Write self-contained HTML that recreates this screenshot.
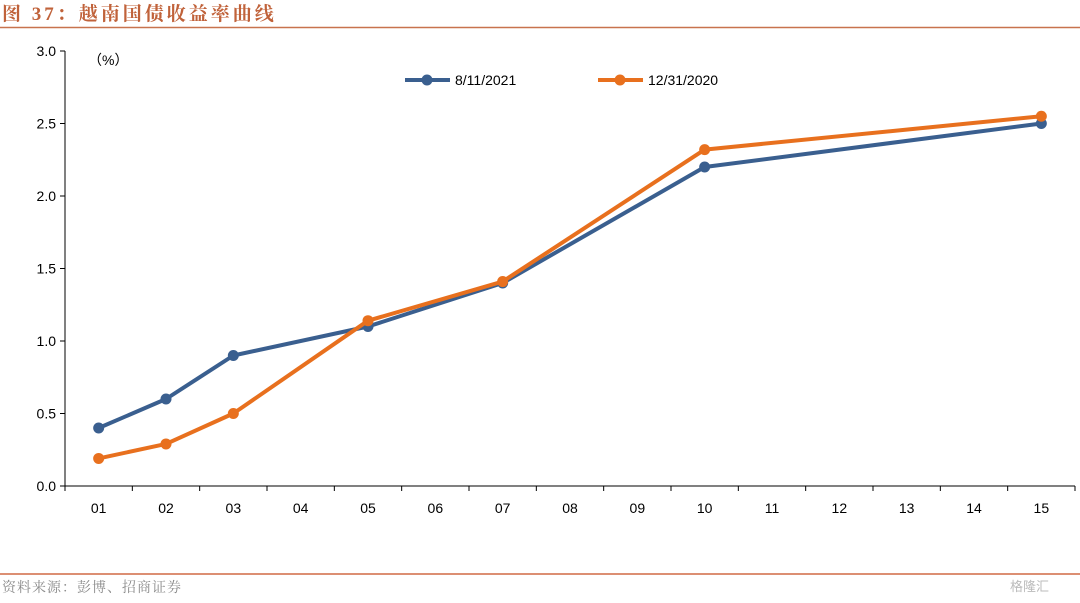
<!DOCTYPE html>
<html><head><meta charset="utf-8"><style>
body{margin:0;width:1080px;height:598px;background:#fff;overflow:hidden;font-family:"Liberation Sans","Noto Sans CJK SC",sans-serif;}
</style></head><body>
<svg width="1080" height="598">
<text x="2" y="20" font-size="19" font-weight="bold" fill="#c0623a" letter-spacing="3" font-family="'Liberation Serif','Noto Serif CJK SC',serif">图 37：越南国债收益率曲线</text>
<line x1="0" y1="27.5" x2="1080" y2="27.5" stroke="#c8734e" stroke-width="1.5"/>
<g id="axes"></g>
<g id="series"></g>
<line x1="0" y1="574" x2="1080" y2="574" stroke="#d06a45" stroke-width="1.5"/>
<text x="2" y="592" font-size="14" fill="#8a8a8a" letter-spacing="1" font-family="'Noto Serif CJK SC',serif">资料来源：彭博、招商证券</text>
<text x="1010" y="591" font-size="13" fill="#bbb">格隆汇</text>
</svg>
<script>
const categories=["01","02","03","04","05","06","07","08","09","10","11","12","13","14","15"];
const yTicks=["0.0","0.5","1.0","1.5","2.0","2.5","3.0"];
const seriesNames=["8/11/2021","12/31/2020"];
const blueCats=["01","02","03","05","07","10","15"];
const blueVals=[0.40,0.60,0.90,1.10,1.40,2.20,2.50];
const orangeCats=["01","02","03","05","07","10","15"];
const orangeVals=[0.19,0.29,0.50,1.14,1.41,2.32,2.55];
const NS="http://www.w3.org/2000/svg";
const x0=65,x1=1075,yTop=51,yBot=486,ymax=3;
const bw=(x1-x0)/categories.length;
const xs=c=>x0+bw*(categories.indexOf(c)+0.5);
const ys=v=>yBot-(v/ymax)*(yBot-yTop);
function mk(t,a,p){const e=document.createElementNS(NS,t);for(const k in a)e.setAttribute(k,a[k]);p.appendChild(e);return e;}
const ax=document.getElementById('axes');
let yl=mk('line',{x1:x0,y1:yTop,x2:x0,y2:yBot,stroke:'#000'},ax);


let xl=mk('line',{x1:x0,y1:yBot,x2:x1,y2:yBot,stroke:'#000'},ax);


yTicks.forEach(t=>{const y=ys(parseFloat(t));
mk('line',{x1:x0-5,y1:y,x2:x0,y2:y,stroke:'#000'},ax);
const tx=mk('text',{x:x0-9,y:y+5,'font-size':14,'text-anchor':'end'},ax);tx.textContent=t;

});
for(let i=0;i<=categories.length;i++){const x=x0+bw*i;mk('line',{x1:x,y1:yBot,x2:x,y2:yBot+5,stroke:'#000'},ax);}
categories.forEach(c=>{const tx=mk('text',{x:xs(c),y:513,'font-size':14,'text-anchor':'middle'},ax);tx.textContent=c;

});
const unit=mk('text',{x:88,y:65,'font-size':14},ax);unit.textContent='（%）';


const sg=document.getElementById('series');
function draw(cats,vals,col,name,lx){
const pts=cats.map((c,i)=>xs(c)+','+ys(vals[i])).join(' ');
const pl=mk('polyline',{points:pts,fill:'none',stroke:col,'stroke-width':4,'stroke-linejoin':'round'},sg);


cats.forEach((c,i)=>{const ci=mk('circle',{cx:xs(c),cy:ys(vals[i]),r:5.5,fill:col},sg);

});
const g=mk('g',{},sg);


mk('line',{x1:lx,y1:80,x2:lx+45,y2:80,stroke:col,'stroke-width':4},g);
mk('circle',{cx:lx+22,cy:80,r:5.5,fill:col},g);
const t=mk('text',{x:lx+50,y:85,'font-size':14},g);t.textContent=name;}
draw(blueCats,blueVals,'#3a5f8f',seriesNames[0],405);
draw(orangeCats,orangeVals,'#e8701e',seriesNames[1],598);
</script>
</body></html>
